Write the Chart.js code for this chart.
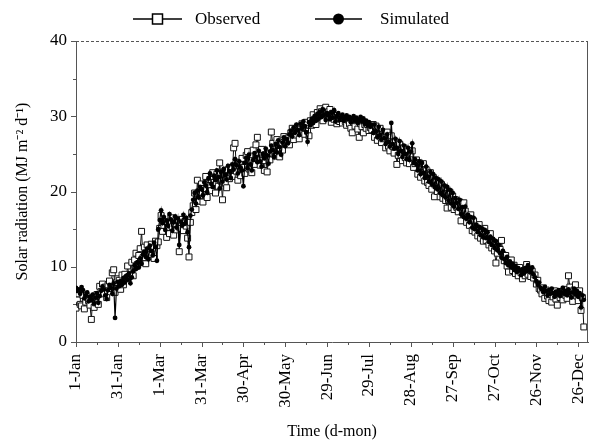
<!DOCTYPE html>
<html>
<head>
<meta charset="utf-8">
<script src="https://cdn.jsdelivr.net/npm/chart.js@4.4.0/dist/chart.umd.min.js"></script>
<style>
  html, body { margin: 0; padding: 0; background: #fff; }
  #wrap { width: 589px; height: 442px; }
</style>
</head>
<body>
<div id="wrap"><canvas id="radChart" width="589" height="442"></canvas></div>
<script>
// Daily solar radiation (MJ m-2 d-1), index 0 = 1-Jan, one line per month
const observed = [
  4.5, 5.6, 6.4, 5.0, 4.8, 6.2, 4.4, 5.3, 6.0, 5.5, 4.9, 3.0, 5.8, 4.6, 5.2, 6.3, 5.0, 7.4, 6.7, 7.7, 6.4, 7.3, 5.9, 7.6, 8.1, 7.1, 9.2, 9.6, 6.6, 7.9, 8.4,
  8.2, 7.0, 8.9, 7.6, 9.0, 8.4, 10.1, 8.7, 8.9, 10.6, 8.8, 10.9, 11.8, 10.3, 11.5, 12.4, 14.7, 11.2, 12.6, 10.4, 12.9, 12.2, 11.6, 13.0, 12.5, 11.1, 13.4, 12.8,
  13.3, 15.1, 16.8, 14.7, 15.5, 16.0, 13.9, 15.2, 14.4, 16.5, 15.3, 14.2, 15.7, 14.9, 16.2, 12.0, 15.1, 16.3, 14.8, 16.0, 15.4, 13.8, 11.3, 15.9, 17.2, 18.1, 19.8, 17.6, 21.5, 18.7, 19.9,
  21.0, 18.6, 20.4, 22.0, 19.2, 20.9, 21.6, 20.1, 22.5, 21.2, 19.8, 22.3, 20.7, 23.8, 21.4, 18.9, 22.6, 21.1, 20.5, 22.9, 21.7, 23.2, 22.0, 25.8, 26.4, 22.7, 21.5, 23.9, 22.1, 24.4,
  23.2, 22.4, 24.8, 25.3, 23.0, 24.1, 22.5, 25.5, 23.6, 26.2, 27.2, 24.3, 23.5, 25.6, 24.1, 22.8, 24.9, 22.6, 25.1, 24.2, 27.9, 26.4, 25.0, 24.7, 26.9, 25.4, 24.6, 26.2, 25.5, 27.3, 26.4,
  26.4, 27.1, 26.2, 27.8, 28.4, 26.9, 28.1, 27.5, 28.6, 27.0, 28.3, 29.0, 28.5, 27.6, 29.2, 28.0, 27.4, 29.4, 28.8, 30.2, 29.6, 28.9, 30.5, 29.8, 31.0, 30.6, 29.4, 30.8, 31.2, 30.3,
  30.6, 30.9, 29.2, 30.4, 29.6, 30.1, 29.0, 29.8, 29.3, 29.6, 29.1, 29.7, 29.3, 28.8, 29.5, 29.0, 28.4, 27.8, 29.2, 28.7, 29.4, 28.3, 27.2, 29.0, 28.6, 27.8, 28.9, 28.4, 28.9, 28.1, 28.5,
  28.2, 28.9, 27.2, 28.7, 26.8, 27.5, 28.4, 26.5, 27.0, 27.4, 25.8, 27.9, 26.0, 25.4, 27.4, 26.0, 25.1, 26.6, 23.6, 24.8, 26.3, 24.8, 24.1, 25.8, 24.5, 23.8, 25.4, 23.7, 25.0, 25.4, 23.2,
  23.7, 24.2, 22.3, 23.8, 21.9, 23.3, 23.7, 21.4, 22.9, 21.2, 20.8, 22.5, 20.3, 21.9, 19.3, 21.4, 20.0, 21.2, 19.3, 20.9, 19.1, 20.5, 18.8, 17.8, 18.9, 19.9, 17.9, 19.4, 17.6, 18.9,
  17.9, 17.3, 18.6, 16.1, 17.6, 18.5, 17.4, 15.9, 16.5, 15.5, 16.9, 14.8, 16.1, 14.6, 15.2, 14.1, 15.6, 13.8, 14.7, 13.4, 15.1, 13.5, 14.2, 12.9, 14.4, 12.5, 13.3, 12.1, 10.5, 11.8, 12.6,
  12.3, 13.5, 11.6, 10.8, 11.5, 10.1, 9.3, 10.4, 10.9, 9.5, 10.2, 9.1, 9.7, 8.8, 9.9, 9.2, 8.4, 9.5, 8.8, 10.3, 9.0, 9.6, 8.7, 9.4, 8.5, 8.9, 7.7, 8.2, 7.1, 6.9,
  6.4, 7.2, 5.8, 6.9, 6.1, 5.5, 6.6, 5.3, 6.0, 6.8, 5.7, 4.9, 6.3, 5.9, 6.7, 5.6, 7.0, 6.2, 5.8, 8.8, 7.3, 6.5, 5.4, 6.9, 7.6, 6.1, 5.5, 6.8, 4.2, 5.9, 2.0
];

const simulated = [
  7.2, 6.8, 7.0, 6.4, 7.3, 6.9, 5.8, 6.2, 6.6, 5.4, 6.0, 5.6, 6.3, 5.1, 5.9, 6.5, 5.2, 6.1, 6.8, 7.4, 7.0, 6.2, 5.7, 6.9, 7.6, 7.2, 6.4, 7.8, 3.2, 7.1, 8.0,
  7.4, 8.1, 7.6, 8.5, 7.9, 8.8, 8.3, 9.1, 7.8, 8.6, 9.4, 10.2, 9.7, 10.6, 9.9, 11.1, 10.4, 11.6, 12.0, 11.3, 12.4, 11.0, 12.8, 12.1, 11.5, 13.2, 12.6, 10.8,
  15.0, 16.2, 17.5, 15.8, 16.6, 14.9, 16.1, 15.4, 17.0, 16.3, 14.8, 15.9, 16.7, 15.2, 16.4, 12.9, 16.0, 15.5, 16.9, 15.7, 16.5, 14.6, 12.6, 16.8, 17.6, 18.9, 19.8, 18.4, 20.1, 19.2, 20.6,
  20.3, 19.5, 21.2, 20.8, 19.9, 21.7, 22.4, 21.0, 20.6, 22.1, 21.5, 22.8, 21.9, 20.4, 22.6, 21.3, 23.0, 22.2, 21.6, 23.4, 22.7, 21.8, 23.6, 22.9, 24.3, 23.5, 22.4, 24.0, 23.2, 22.8,
  20.7, 23.8, 24.5, 23.1, 24.9, 23.6, 22.8, 24.2, 25.1, 24.6, 23.9, 25.4, 24.0, 23.3, 25.0, 24.4, 25.7, 24.8, 23.7, 25.3, 26.1, 25.5, 24.6, 26.3, 25.2, 26.8, 25.9, 24.9, 26.5, 27.2, 26.0,
  27.0, 26.4, 27.6, 28.1, 27.3, 28.5, 27.8, 28.9, 28.2, 27.5, 29.0, 28.4, 29.3, 28.7, 27.9, 26.6, 29.2, 28.8, 29.6, 29.1, 30.0, 29.4, 30.3, 29.7, 30.6, 29.9, 30.9, 30.2, 29.5, 30.4,
  30.1, 29.6, 30.5, 29.8, 30.8, 29.3, 30.0, 30.4, 29.5, 29.9, 30.2, 29.4, 29.8, 30.1, 29.6, 29.9, 29.2, 29.7, 30.0, 29.4, 29.8, 29.1, 29.5, 29.9, 29.3, 29.7, 29.0, 29.4, 28.8, 29.2, 28.6,
  28.9, 27.8, 28.9, 28.0, 27.2, 28.6, 27.5, 26.9, 28.2, 27.1, 26.3, 27.6, 26.6, 26.0, 29.1, 26.3, 25.7, 27.0, 25.8, 25.0, 26.7, 25.4, 24.6, 26.1, 25.0, 24.3, 25.8, 24.2, 25.3, 26.4, 23.8,
  24.3, 23.6, 22.8, 24.0, 22.3, 23.8, 22.5, 21.8, 23.3, 22.0, 21.3, 22.6, 21.0, 22.3, 20.6, 21.8, 20.3, 21.6, 19.8, 21.3, 19.5, 20.8, 19.2, 20.6, 18.8, 20.2, 18.4, 19.8, 18.0, 19.1,
  18.5, 17.7, 18.9, 17.0, 17.9, 16.6, 18.0, 16.4, 16.9, 15.9, 16.6, 15.2, 16.5, 15.0, 15.6, 14.6, 15.3, 14.2, 15.1, 13.9, 14.9, 13.8, 14.6, 13.3, 14.0, 12.9, 13.7, 12.5, 13.4, 12.2, 12.9,
  11.8, 11.2, 12.1, 11.0, 10.5, 11.3, 10.2, 10.7, 9.9, 10.4, 9.6, 10.1, 9.3, 9.8, 9.5, 8.9, 9.6, 9.1, 9.8, 9.4, 10.2, 9.7, 9.3, 9.9, 9.0, 8.6, 8.1, 7.6, 7.9, 7.2,
  7.0, 6.6, 7.3, 6.8, 6.2, 6.9, 6.4, 7.1, 6.5, 6.0, 6.7, 6.3, 6.9, 6.1, 6.6, 7.2, 6.4, 6.8, 6.2, 7.0, 6.5, 5.9, 6.6, 7.1, 6.3, 6.8, 6.0, 6.5, 4.6, 6.2, 5.6
];

// x-axis labels, one every 30 days from 1-Jan
const tickLabels = ['1-Jan', '31-Jan', '1-Mar', '31-Mar', '30-Apr', '30-May', '29-Jun',
  '29-Jul', '28-Aug', '27-Sep', '27-Oct', '26-Nov', '26-Dec'];

const SERIF = '"Liberation Serif", "Times New Roman", serif';
Chart.defaults.font.family = SERIF;
Chart.defaults.color = '#000';

// frame lines, tick marks and legend drawn on top of the plot
const extras = {
  id: 'extras',
  afterDraw(chart) {
    const { ctx, chartArea: a, scales: { x, y } } = chart;
    ctx.save();
    ctx.strokeStyle = '#555';
    ctx.lineWidth = 1;

    ctx.setLineDash([3, 2]);
    ctx.beginPath();
    ctx.moveTo(a.left, a.top + 0.5);
    ctx.lineTo(a.right, a.top + 0.5);
    ctx.stroke();
    ctx.setLineDash([]);
    ctx.beginPath();
    ctx.moveTo(a.right - 0.5, a.top);
    ctx.lineTo(a.right - 0.5, a.bottom);
    ctx.stroke();

    for (let v = 0; v <= 40; v += 5) {
      const py = Math.round(y.getPixelForValue(v)) + 0.5;
      const len = v % 10 === 0 ? 5 : 3;
      ctx.beginPath();
      ctx.moveTo(a.left - len, py);
      ctx.lineTo(a.left, py);
      ctx.stroke();
    }
    for (let d = 0; d <= 360; d += 15) {
      const px = Math.round(x.getPixelForValue(d)) + 0.5;
      const len = d % 30 === 0 ? 5 : 3;
      ctx.beginPath();
      ctx.moveTo(px, a.bottom);
      ctx.lineTo(px, a.bottom + len);
      ctx.stroke();
    }

    // legend
    const ly = 19;
    ctx.strokeStyle = '#000';
    ctx.lineWidth = 1.5;
    ctx.fillStyle = '#000';
    ctx.font = '17px ' + SERIF;
    ctx.textBaseline = 'middle';

    ctx.beginPath();
    ctx.moveTo(133, ly); ctx.lineTo(182, ly);
    ctx.stroke();
    ctx.fillStyle = '#fff';
    ctx.fillRect(152.5, ly - 5, 10, 10);
    ctx.strokeRect(152.5, ly - 5, 10, 10);
    ctx.fillStyle = '#000';
    ctx.fillText(chart.data.datasets[0].label, 195, ly + 1);

    ctx.beginPath();
    ctx.moveTo(315, ly); ctx.lineTo(362, ly);
    ctx.stroke();
    ctx.beginPath();
    ctx.arc(338.5, ly, 5.5, 0, Math.PI * 2);
    ctx.fill();
    ctx.fillText(chart.data.datasets[1].label, 380, ly + 1);
    ctx.restore();
  }
};

const ctx = document.getElementById('radChart').getContext('2d');

new Chart(ctx, {
  type: 'line',
  data: {
    datasets: [{
      label: 'Observed',
      data: observed.map((v, i) => ({ x: i, y: v })),
      borderColor: '#111',
      borderWidth: 1,
      pointStyle: 'rect',
      pointRadius: 4.2,
      pointBackgroundColor: '#fff',
      pointBorderColor: '#111',
      pointBorderWidth: 1,
      order: 1
    }, {
      label: 'Simulated',
      data: simulated.map((v, i) => ({ x: i, y: v })),
      borderColor: '#000',
      borderWidth: 1.2,
      pointStyle: 'circle',
      pointRadius: 2.4,
      pointBackgroundColor: '#000',
      pointBorderColor: '#000',
      pointBorderWidth: 0,
      order: 0
    }]
  },
  options: {
    responsive: false,
    animation: false,
    layout: { autoPadding: false, padding: { top: 41, right: 1, left: 0, bottom: 0 } },
    plugins: { legend: { display: false }, tooltip: { enabled: false } },
    scales: {
      x: {
        type: 'linear',
        min: 0,
        max: 367,
        afterFit: (s) => { s.height = 100; s.paddingLeft = 0; s.paddingRight = 0; },
        grid: { display: false, drawTicks: false },
        border: { display: true, color: '#555' },
        ticks: {
          stepSize: 30,
          includeBounds: false,
          autoSkip: false,
          minRotation: 90,
          maxRotation: 90,
          padding: 12,
          font: { size: 17 },
          callback: (v) => tickLabels[v / 30]
        },
        title: {
          display: true,
          text: 'Time (d-mon)',
          font: { size: 16 },
          padding: { top: 0, bottom: 1 }
        }
      },
      y: {
        min: 0,
        max: 40,
        afterFit: (s) => { s.width = 76; s.paddingTop = 0; s.paddingBottom = 0; },
        grid: { display: false, drawTicks: false },
        border: { display: true, color: '#555', dash: [2, 1] },
        ticks: { stepSize: 10, padding: 9, font: { size: 17 } },
        title: {
          display: true,
          text: 'Solar radiation (MJ m\u207B\u00B2 d\u207B\u00B9)',
          font: { size: 16 },
          padding: { top: 13, bottom: 0 }
        }
      }
    }
  },
  plugins: [extras]
});
</script>
</body>
</html>
